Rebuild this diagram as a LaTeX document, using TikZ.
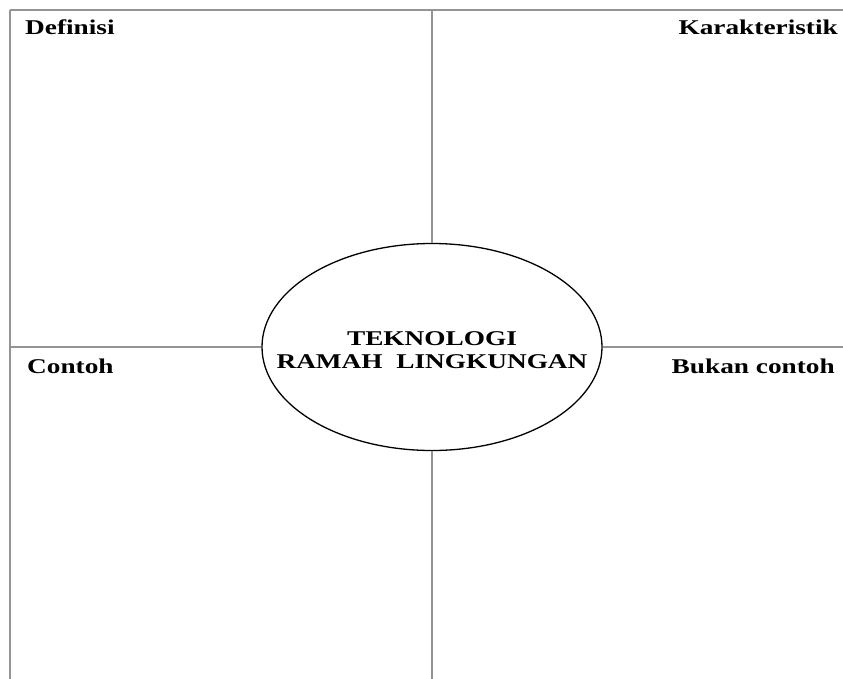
\documentclass[tikz,border=0pt]{standalone}
\usepackage{fontspec}
\usepackage{tikz}
\usetikzlibrary{shapes.geometric}
\newfontfamily\lblfont{Liberation Serif}[FakeStretch=1.3]

\begin{document}
\begin{tikzpicture}
[x=1pt, y={(0pt,-1pt)},
 grid/.style={draw=black!42, line width=1.8pt},
 lbl/.style={font=\lblfont\bfseries\fontsize{21}{23}\selectfont, inner sep=0pt},
 topic/.style={ellipse, draw, line width=1.3pt, minimum width=340pt, minimum height=207pt, inner sep=0pt},
 topictext/.style={align=center, inner sep=0pt, font=\lblfont\bfseries\fontsize{21}{23}\selectfont}]
\useasboundingbox (0,0) rectangle (843,679);

\coordinate (tl) at (10,10);
\coordinate (tr) at (843,10);
\coordinate (bl) at (10,679);
\coordinate (tm) at (432,10);
\coordinate (bm) at (432,679);
\coordinate (ml) at (10,347);
\coordinate (mr) at (843,347);

\node[topic] (tek) at (432,347) {};
\node[topictext] (tektxt) at (432,350) {TEKNOLOGI\\RAMAH\ \ LINGKUNGAN};
\node[lbl, anchor=base west] (def) at (25,35) {Definisi};
\node[lbl, anchor=base east] (kar) at (838,35) {Karakteristik};
\node[lbl, anchor=base west] (con) at (27,373) {Contoh};
\node[lbl, anchor=base east] (buk) at (835,373) {Bukan contoh};

\foreach \from/\to in {tl/tr,tl/bl,tm/tek.north,tek.south/bm,ml/tek.west,tek.east/mr}
	\draw[grid] (\from) -- (\to);

\end{tikzpicture}
\end{document}
